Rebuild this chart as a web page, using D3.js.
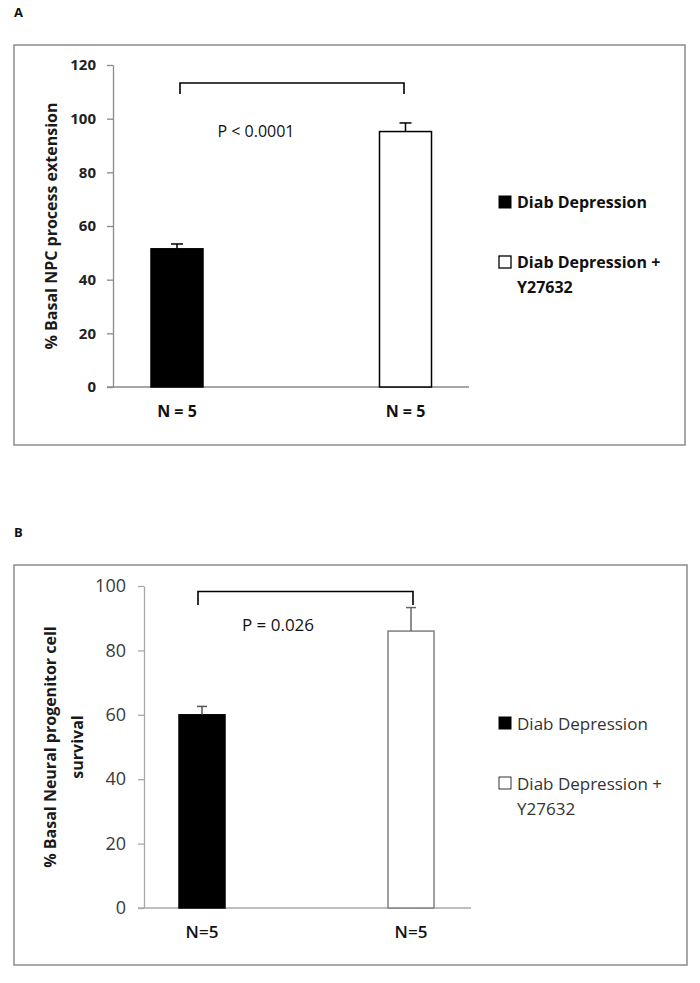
<!DOCTYPE html>
<html><head><meta charset="utf-8">
<script src="https://cdn.jsdelivr.net/npm/d3@7"></script>
<style>body{margin:0;background:#fff}svg{display:block}</style>
</head><body>
<svg id="c" width="700" height="983"></svg>
<script>
// ---- data ----
const categories = ["Diab Depression", "Diab Depression + Y27632"];
const xLabelsA = ["N = 5", "N = 5"];
const meansA = [51.5, 95.2];
const errorsA = [1.8, 3.2];
const ticksA = [0, 20, 40, 60, 80, 100, 120];
const titleA = "% Basal NPC process extension";
const pTextA = "P < 0.0001";

const xLabelsB = ["N=5", "N=5"];
const meansB = [60, 86];
const errorsB = [2.6, 7.3];
const ticksB = [0, 20, 40, 60, 80, 100];
const titleB = ["% Basal Neural progenitor cell", "survival"];
const pTextB = "P = 0.026";

const legendLines = [["Diab Depression"], ["Diab Depression +", "Y27632"]];
const fills = ["#000", "#fff"];

const svg = d3.select("#c");
const FONT = "'Open Sans', Lato, sans-serif";

function panel(o) {
  const g = svg.append("g");
  // frame
  g.append("rect").attr("x", o.frame[0]).attr("y", o.frame[1])
    .attr("width", o.frame[2] - o.frame[0]).attr("height", o.frame[3] - o.frame[1])
    .attr("fill", "none").attr("stroke", "#8c8c8c").attr("stroke-width", 1.5);
  // panel letter
  g.append("text").attr("x", 14).attr("y", o.letterY).text(o.letter)
    .attr("font-family", FONT).attr("font-weight", 700).attr("font-size", 13).attr("fill", "#111");

  const y = d3.scaleLinear().domain([0, o.max]).range([o.y0, o.y1]);
  const x = d3.scalePoint().domain(categories).range(o.centers);

  // y axis
  const ax = g.append("g").attr("transform", `translate(${o.axisX},0)`)
    .call(d3.axisLeft(y).tickValues(o.ticks).tickSize(6).tickPadding(o.tickPad).tickSizeOuter(0));
  ax.select(".domain").attr("stroke", o.axisColor).attr("stroke-width", 1.3);
  ax.selectAll(".tick line").attr("stroke", o.axisColor).attr("stroke-width", 1.3);
  ax.selectAll(".tick text").attr("font-family", FONT).attr("font-size", o.tickSize)
    .attr("font-weight", o.tickWeight).attr("fill", o.tickColor);

  // x axis baseline
  g.append("line").attr("x1", o.axisX - 6).attr("x2", o.xEnd)
    .attr("y1", y(0)).attr("y2", y(0)).attr("stroke", o.axisColor).attr("stroke-width", 1.3);

  // bars
  g.selectAll(".bar").data(o.means).join("rect")
    .attr("x", (d, i) => x(categories[i]) - o.barW / 2)
    .attr("y", d => y(d)).attr("width", o.barW).attr("height", d => y(0) - y(d))
    .attr("fill", (d, i) => fills[i]).attr("stroke", (d, i) => i === 0 ? "#000" : o.barStroke)
    .attr("stroke-width", 1.5);

  // error bars (upper only)
  o.means.forEach((m, i) => {
    const cx = x(categories[i]);
    const col = i === 0 ? o.errColor0 : o.errColor1;
    g.append("line").attr("x1", cx).attr("x2", cx).attr("y1", y(m)).attr("y2", y(m + o.errors[i]))
      .attr("stroke", col).attr("stroke-width", 1.5);
    g.append("line").attr("x1", cx - o.cap).attr("x2", cx + o.cap)
      .attr("y1", y(m + o.errors[i])).attr("y2", y(m + o.errors[i]))
      .attr("stroke", col).attr("stroke-width", 1.5);
  });

  // x labels
  o.xLabels.forEach((t, i) => {
    g.append("text").attr("x", x(categories[i])).attr("y", o.xLabelY).attr("text-anchor", "middle")
      .attr("dominant-baseline", "central").text(t)
      .attr("font-family", FONT).attr("font-size", o.xLabelSize).attr("font-weight", o.xLabelWeight)
      .attr("fill", "#111");
  });

  // significance bracket
  const bx0 = x(categories[0]) + o.brOff[0], bx1 = x(categories[1]) + o.brOff[1];
  g.append("path").attr("d", `M${bx0},${o.brBottom}V${o.brTop}H${bx1}V${o.brBottom}`)
    .attr("fill", "none").attr("stroke", "#000").attr("stroke-width", 1.6);
  g.append("text").attr("x", o.pX).attr("y", o.pY).attr("text-anchor", "middle")
    .attr("dominant-baseline", "central").text(o.pText)
    .attr("font-family", FONT).attr("font-size", o.pSize).attr("font-weight", o.pWeight).attr("fill", "#111");

  // y title
  const tt = g.append("text").attr("transform", `translate(${o.titleX},${o.titleY}) rotate(-90)`)
    .attr("text-anchor", "middle").attr("font-family", FONT).attr("font-weight", 700)
    .attr("font-size", o.titleSize).attr("fill", "#1a1a1a");
  o.title.forEach((t, i) => tt.append("tspan").attr("x", 0).attr("dy", i === 0 ? 0 : o.titleLH).text(t));

  // legend
  legendLines.forEach((lines, i) => {
    const cy = o.legY[i];
    g.append("rect").attr("x", 499).attr("y", cy - 6).attr("width", 12).attr("height", 12)
      .attr("fill", fills[i]).attr("stroke", "#000").attr("stroke-width", i === 0 ? 1 : o.legStroke);
    lines.forEach((t, j) => {
      g.append("text").attr("x", 517).attr("y", cy + j * 25).attr("dominant-baseline", "central")
        .text(t).attr("font-family", FONT).attr("font-size", o.legSize).attr("font-weight", o.legWeight)
        .attr("fill", o.legColor);
    });
  });
}

panel({
  frame: [14, 45, 685, 445], letter: "A", letterY: 17,
  max: 120, y0: 387, y1: 65, ticks: ticksA, axisX: 113, xEnd: 469, tickPad: 11,
  tickSize: 15, tickWeight: 700, tickColor: "#222", axisColor: "#8a8a8a",
  centers: [177, 405.5], barW: 52, barStroke: "#000", means: meansA, errors: errorsA,
  errColor0: "#000", errColor1: "#000", cap: 6,
  xLabels: xLabelsA, xLabelY: 411, xLabelSize: 16, xLabelWeight: 700,
  brOff: [3, -1.5], brTop: 83, brBottom: 94, pText: pTextA, pX: 256, pY: 131, pSize: 16, pWeight: 400,
  title: [titleA], titleX: 57, titleY: 226, titleSize: 16, titleLH: 0,
  legY: [202, 262], legSize: 16, legWeight: 700, legColor: "#111", legStroke: 1.3
});

panel({
  frame: [14, 565, 687, 965], letter: "B", letterY: 537,
  max: 100, y0: 908, y1: 586, ticks: ticksB, axisX: 144, xEnd: 471, tickPad: 12,
  tickSize: 18, tickWeight: 400, tickColor: "#3a3a3a", axisColor: "#a8a8a8",
  centers: [202, 411], barW: 46, barStroke: "#808080", means: meansB, errors: errorsB,
  errColor0: "#555", errColor1: "#666", cap: 5,
  xLabels: xLabelsB, xLabelY: 931, xLabelSize: 17, xLabelWeight: 600,
  brOff: [-4, 2], brTop: 591.5, brBottom: 605, pText: pTextB, pX: 278, pY: 624, pSize: 17, pWeight: 400,
  title: titleB, titleX: 56, titleY: 747, titleSize: 16, titleLH: 27,
  legY: [723, 783], legSize: 17, legWeight: 400, legColor: "#333", legStroke: 0.8
});
</script>
</body></html>
